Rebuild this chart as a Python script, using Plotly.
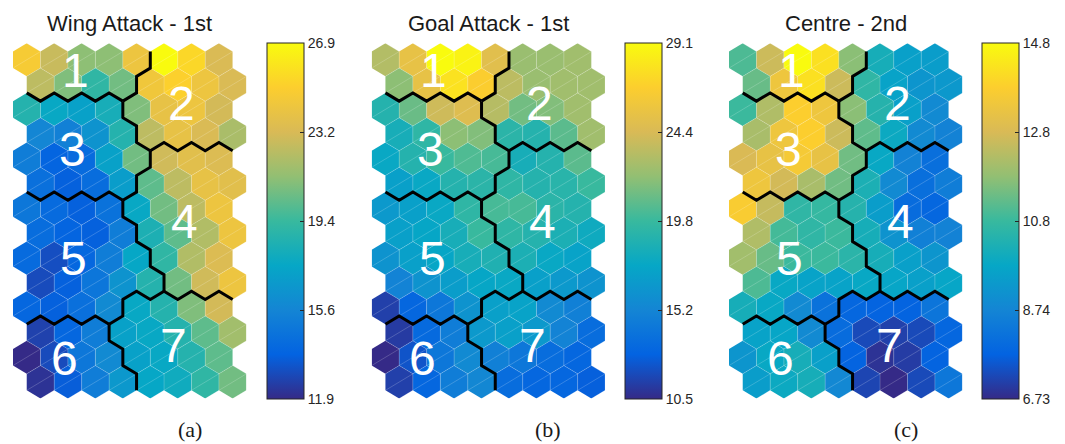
import plotly.graph_objects as go
from plotly.colors import sample_colorscale

W, H = 1065, 444
NROWS, NCOLS = 14, 8

titles = ["Wing Attack - 1st", "Goal Attack - 1st", "Centre - 2nd"]
captions = ["(a)", "(b)", "(c)"]
cmins = [11.9, 10.5, 6.73]
cmaxs = [26.9, 29.1, 14.8]
tick_texts = [["11.9", "15.6", "19.4", "23.2", "26.9"],
              ["10.5", "15.2", "19.8", "24.4", "29.1"],
              ["6.73", "8.74", "10.8", "12.8", "14.8"]]

# cluster id of each map unit (row 0 = top row)
clusters = [
    [1, 1, 1, 1, 1, 2, 2, 2],
    [1, 1, 1, 1, 2, 2, 2, 2],
    [3, 3, 3, 3, 2, 2, 2, 2],
    [3, 3, 3, 3, 2, 2, 2, 2],
    [3, 3, 3, 3, 3, 4, 4, 4],
    [3, 3, 3, 3, 4, 4, 4, 4],
    [5, 5, 5, 5, 4, 4, 4, 4],
    [5, 5, 5, 5, 4, 4, 4, 4],
    [5, 5, 5, 5, 5, 4, 4, 4],
    [5, 5, 5, 5, 5, 4, 4, 4],
    [5, 5, 5, 5, 7, 7, 7, 7],
    [6, 6, 6, 7, 7, 7, 7, 7],
    [6, 6, 6, 6, 7, 7, 7, 7],
    [6, 6, 6, 6, 7, 7, 7, 7],
]

wing_attack = [
    [24.7, 22.7, 21.2, 21.2, 24.2, 26.9, 25.4, 23.2],
    [22.4, 20.9, 19.1, 20.6, 24.4, 25.1, 24.2, 23.2],
    [18.7, 17.6, 17.2, 18.2, 20.9, 23.9, 24.2, 23.0],
    [15.7, 15.4, 16.4, 18.7, 22.4, 23.9, 23.2, 21.9],
    [15.2, 13.9, 14.2, 17.2, 20.6, 22.9, 23.6, 23.3],
    [14.5, 13.7, 14.3, 17.0, 20.2, 22.4, 23.9, 23.6],
    [14.9, 14.2, 13.7, 14.6, 17.6, 20.6, 22.4, 24.2],
    [14.3, 13.9, 13.7, 15.2, 18.4, 20.2, 22.1, 24.2],
    [14.2, 13.1, 14.0, 15.2, 17.5, 19.1, 22.1, 23.3],
    [13.0, 13.7, 14.8, 16.4, 18.7, 20.6, 22.9, 24.2],
    [14.0, 13.7, 14.5, 15.9, 17.6, 18.7, 20.9, 23.0],
    [12.7, 14.0, 15.2, 17.2, 17.6, 18.7, 20.2, 21.7],
    [11.9, 13.0, 14.9, 15.9, 17.2, 17.6, 18.7, 20.2],
    [12.2, 13.6, 15.2, 16.7, 17.5, 17.9, 19.1, 20.6],
]

goal_attack = [
    [23.2, 25.4, 29.1, 28.7, 25.0, 22.4, 22.4, 22.6],
    [22.0, 25.4, 27.8, 26.7, 23.5, 22.4, 22.6, 22.6],
    [18.9, 21.1, 24.1, 24.8, 23.3, 21.3, 21.7, 22.6],
    [18.3, 19.4, 22.0, 21.7, 19.2, 18.9, 20.7, 22.6],
    [17.6, 18.9, 19.8, 20.4, 20.2, 18.3, 18.9, 20.7],
    [17.0, 17.6, 18.9, 19.2, 19.4, 18.9, 19.1, 19.8],
    [16.5, 17.0, 17.6, 19.4, 20.2, 20.2, 19.2, 18.9],
    [17.0, 17.4, 18.3, 19.8, 19.4, 18.9, 18.5, 17.9],
    [16.1, 17.0, 17.4, 18.3, 18.7, 18.5, 17.6, 17.2],
    [15.0, 16.1, 16.8, 17.4, 17.6, 17.0, 16.5, 16.1],
    [11.4, 13.1, 14.2, 16.1, 17.0, 17.2, 15.5, 14.8],
    [11.2, 13.3, 14.6, 16.5, 17.0, 16.5, 15.0, 13.5],
    [10.5, 12.2, 14.2, 15.5, 14.8, 14.2, 13.5, 13.1],
    [11.4, 13.1, 14.6, 15.3, 13.5, 13.1, 13.1, 12.7],
]

centre = [
    [11.0, 12.6, 14.8, 14.2, 11.7, 10.1, 9.55, 9.47],
    [11.3, 13.4, 14.2, 12.6, 10.6, 9.64, 9.23, 9.31],
    [10.8, 12.2, 13.8, 13.4, 11.7, 10.4, 9.55, 8.91],
    [12.1, 13.4, 13.8, 12.6, 11.2, 9.88, 8.91, 8.67],
    [12.8, 13.2, 13.6, 13.2, 11.4, 9.80, 8.67, 8.10],
    [13.4, 12.7, 12.1, 11.4, 10.2, 8.91, 8.10, 8.51],
    [13.7, 12.5, 10.6, 10.7, 10.4, 9.47, 8.02, 7.86],
    [12.2, 10.9, 10.6, 10.8, 10.1, 9.15, 8.59, 8.67],
    [12.0, 11.3, 10.8, 10.8, 10.5, 10.1, 9.55, 9.23],
    [11.0, 9.80, 9.64, 9.64, 9.80, 9.72, 9.55, 9.72],
    [10.1, 9.80, 8.91, 8.18, 7.86, 7.78, 7.78, 8.26],
    [9.64, 9.72, 8.91, 8.02, 7.29, 7.13, 7.29, 7.86],
    [9.23, 9.80, 10.1, 9.55, 7.78, 6.89, 7.05, 7.78],
    [9.47, 9.88, 10.1, 8.83, 7.21, 6.73, 7.29, 8.34],
]

planes = [wing_attack, goal_attack, centre]

cluster_labels = ["1", "2", "3", "4", "5", "6", "7"]
label_x = [1.76, 5.62, 1.65, 5.73, 1.72, 1.36, 5.36]
label_y = [-0.45, -1.78, -3.6, -6.51, -8.0, -12.03, -11.51]

parula = [[0.0, "#352a87"], [0.125, "#0363e1"], [0.25, "#1485d4"],
          [0.375, "#06a7c6"], [0.5, "#38b99e"], [0.625, "#92bf73"],
          [0.75, "#d9ba56"], [0.875, "#fcce2e"], [1.0, "#f9fb0e"]]

# ---- layout geometry (pixels) ----
panel_x0 = [13.0, 371.7, 729.0]
hex_w_px = 233.4
hex_top, hex_bot = 43.3, 398.6
cb_x0 = [266.7, 625.4, 982.4]
cb_top, cb_bot = 43.3, 399.0
caption_x = [190, 548, 906]


def hex_center(r, c):
    return c + 0.5 * (r % 2), -r


def hex_verts(x, y):
    return [(x, y + 2 / 3), (x + 0.5, y + 1 / 3), (x + 0.5, y - 1 / 3),
            (x, y - 2 / 3), (x - 0.5, y - 1 / 3), (x - 0.5, y + 1 / 3)]


# ---- cluster border polylines ----
edges = {}
for r in range(NROWS):
    for c in range(NCOLS):
        x, y = hex_center(r, c)
        v = hex_verts(x, y)
        for i in range(6):
            a = (round(v[i][0] * 6), round(v[i][1] * 6))
            b = (round(v[(i + 1) % 6][0] * 6), round(v[(i + 1) % 6][1] * 6))
            key = tuple(sorted([a, b]))
            edges.setdefault(key, []).append(clusters[r][c])
border_edges = [k for k, cl in edges.items() if len(cl) == 2 and cl[0] != cl[1]]
adj = {}
for e in border_edges:
    for p in e:
        adj.setdefault(p, []).append(e)
used = set()
polylines = []
for e in border_edges:
    if e in used:
        continue
    used.add(e)
    line = [e[0], e[1]]
    for direction in (1, -1):
        while True:
            end = line[-1] if direction == 1 else line[0]
            nxt = [f for f in adj[end] if f not in used]
            if len(adj[end]) != 2 or not nxt:
                break
            f = nxt[0]
            used.add(f)
            other = f[1] if f[0] == end else f[0]
            if direction == 1:
                line.append(other)
            else:
                line.insert(0, other)
    polylines.append(line)
bx, by = [], []
for line in polylines:
    for p in line:
        bx.append(p[0] / 6)
        by.append(p[1] / 6)
    bx.append(None)
    by.append(None)

fig = go.Figure()
shapes = []
annotations = []

for k in range(3):
    xa = "x" if k == 0 else f"x{k + 1}"
    ya = "y" if k == 0 else f"y{k + 1}"
    vals = planes[k]
    lo, hi = cmins[k], cmaxs[k]
    xs, ys, cs = [], [], []
    gx, gy = [], []
    for r in range(NROWS):
        for c in range(NCOLS):
            x, y = hex_center(r, c)
            v = hex_verts(x, y)
            t = min(1.0, max(0.0, (vals[r][c] - lo) / (hi - lo)))
            col = sample_colorscale(parula, [t])[0]
            path = "M " + " L ".join(f"{px:.4f},{py:.4f}" for px, py in v) + " Z"
            shapes.append(dict(type="path", path=path, xref=xa, yref=ya,
                               fillcolor=col, line=dict(width=0), layer="below"))
            xs.append(x)
            ys.append(y)
            cs.append(vals[r][c])
            for (p, q) in [(v[4], v[1]), (v[0], v[1]), (v[1], v[2]), (v[2], v[3])]:
                gx += [p[0], q[0], None]
                gy += [p[1], q[1], None]
    fig.add_trace(go.Scatter(x=gx, y=gy, mode="lines", xaxis=xa, yaxis=ya,
                             line=dict(color="rgba(255,255,255,0.28)", width=0.7),
                             hoverinfo="skip", showlegend=False))
    step = (hi - lo) / 4
    fig.add_trace(go.Scatter(
        x=xs, y=ys, mode="markers", xaxis=xa, yaxis=ya,
        marker=dict(size=2, opacity=0, color=cs, colorscale=parula, cmin=lo, cmax=hi,
                    showscale=True,
                    colorbar=dict(
                        x=cb_x0[k] / W, xanchor="left", xpad=0,
                        y=1 - (cb_top + cb_bot) / 2 / H, yanchor="middle", ypad=0,
                        len=(cb_bot - cb_top) / H, lenmode="fraction",
                        thickness=37, thicknessmode="pixels",
                        outlinewidth=1, outlinecolor="#262626",
                        tickmode="array",
                        tickvals=[lo + i * step for i in range(5)],
                        ticktext=tick_texts[k],
                        ticks="inside", ticklen=4, tickcolor="#262626",
                        tickfont=dict(family="Liberation Sans", size=14, color="#262626"),
                    )),
        hoverinfo="skip", showlegend=False))
    fig.add_trace(go.Scatter(x=bx, y=by, mode="lines", xaxis=xa, yaxis=ya,
                             line=dict(color="black", width=3),
                             hoverinfo="skip", showlegend=False))
    for i, lab in enumerate(cluster_labels):
        annotations.append(dict(x=label_x[i], y=label_y[i], xref=xa, yref=ya,
                                text=lab, showarrow=False,
                                font=dict(family="Liberation Sans", size=48, color="white"),
                                xanchor="center", yanchor="middle"))
    annotations.append(dict(x=(panel_x0[k] + hex_w_px / 2) / W, y=1 - 23 / H,
                            xref="paper", yref="paper", text=titles[k], showarrow=False,
                            font=dict(family="Liberation Sans", size=22, color="#1a1a1a"),
                            xanchor="center", yanchor="middle"))
    annotations.append(dict(x=caption_x[k] / W, y=0, xref="paper", yref="paper",
                            text=captions[k], showarrow=False,
                            font=dict(family="Liberation Serif", size=22, color="#1a1a1a"),
                            xanchor="center", yanchor="bottom"))

layout = dict(width=W, height=H, margin=dict(l=0, r=0, t=0, b=0), autosize=False,
              paper_bgcolor="white", plot_bgcolor="white",
              shapes=shapes, annotations=annotations, showlegend=False)
for k in range(3):
    sx = "" if k == 0 else str(k + 1)
    layout[f"xaxis{sx}"] = dict(domain=[panel_x0[k] / W, (panel_x0[k] + hex_w_px) / W],
                                range=[-0.5, 8.0], visible=False, fixedrange=True,
                                anchor=f"y{sx}")
    layout[f"yaxis{sx}"] = dict(domain=[1 - hex_bot / H, 1 - hex_top / H],
                                range=[-13 - 2 / 3, 2 / 3], visible=False, fixedrange=True,
                                anchor=f"x{sx}")
fig.update_layout(**layout)
fig.write_html("out.html", config={"displayModeBar": False},
               post_script="document.body.style.margin='0';document.body.style.overflow='hidden';")
